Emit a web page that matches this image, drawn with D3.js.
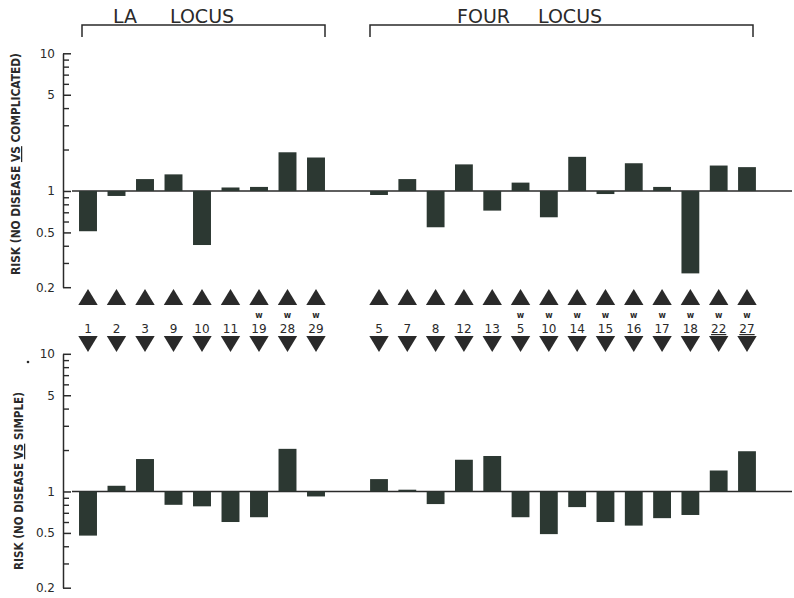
<!DOCTYPE html>
<html>
<head>
<meta charset="utf-8">
<script src="https://cdn.jsdelivr.net/npm/d3@7"></script>
<style>
  html, body { margin: 0; padding: 0; background: #fff; }
  svg { display: block; }
  text { font-family: "DejaVu Sans", "Liberation Sans", sans-serif; fill: #2a2a2a; }
</style>
</head>
<body>
<svg id="chart" width="794" height="598"></svg>
<script>
// ---- data ----
const laCats = ["1", "2", "3", "9", "10", "11", "w19", "w28", "w29"];
const fourCats = ["5", "7", "8", "12", "13", "w5", "w10", "w14", "w15", "w16", "w17", "w18", "w22", "w27"];
const underlinedCats = ["w22", "w27"];

const laComplicated = [0.51, 0.92, 1.22, 1.32, 0.405, 1.06, 1.07, 1.91, 1.75];
const fourComplicated = [0.935, 1.22, 0.545, 1.56, 0.72, 1.15, 0.644, 1.77, 0.95, 1.59, 1.07, 0.252, 1.53, 1.49];
const laSimple = [0.478, 1.10, 1.72, 0.80, 0.78, 0.60, 0.65, 2.04, 0.92];
const fourSimple = [1.23, 1.03, 0.81, 1.70, 1.81, 0.65, 0.49, 0.77, 0.60, 0.565, 0.64, 0.675, 1.42, 1.96];

const allTicks = [0.2, 0.3, 0.4, 0.5, 0.6, 0.7, 0.8, 0.9, 1, 2, 3, 4, 5, 6, 7, 8, 9, 10];
const majorTicks = [0.2, 0.5, 1, 5, 10];
const majorTickLabels = ["0.2", "0.5", "1", "5", "10"];
const groupTitleWords = [["LA", "LOCUS"], ["FOUR", "LOCUS"]];
const panelTitles = ["COMPLICATED", "SIMPLE"];

// ---- layout ----
const svg = d3.select("#chart");
const barColor = "#2c3832";
const ink = "#2a2a2a";

const xLA = d3.scaleBand().domain(laCats).range([73.75, 330.25]).paddingInner(0.37).paddingOuter(0.185);
const xFOUR = d3.scaleBand().domain(fourCats).range([364.85, 761.15]).paddingInner(0.37).paddingOuter(0.185);

const panels = [
  { top: 53.3, bottom: 287.2, la: laComplicated, four: fourComplicated, title: panelTitles[0], titleX: 20, titleY: 164, titleLen: 222 },
  { top: 353.8, bottom: 587.7, la: laSimple, four: fourSimple, title: panelTitles[1], titleX: 23, titleY: 481, titleLen: 178 }
];

panels.forEach(p => {
  const y = d3.scaleLog().domain([0.2, 10]).range([p.bottom, p.top]);
  const g = svg.append("g");

  // minor ticks
  g.append("g")
    .attr("transform", "translate(63,0)")
    .call(d3.axisLeft(y).tickValues(allTicks.filter(t => !majorTicks.includes(t))).tickSizeInner(-6).tickSizeOuter(0).tickFormat(""))
    .call(s => s.select(".domain").remove())
    .call(s => s.selectAll("line").attr("stroke", ink).attr("stroke-width", 1.4));

  // major ticks + axis line
  g.append("g")
    .attr("transform", "translate(63,0)")
    .call(d3.axisLeft(y).tickValues(majorTicks).tickSizeInner(-8).tickSizeOuter(0).tickPadding(8)
      .tickFormat((d, i) => majorTickLabels[i]))
    .call(s => s.select(".domain").attr("stroke", ink).attr("stroke-width", 1.5))
    .call(s => s.selectAll("line").attr("stroke", ink).attr("stroke-width", 1.5))
    .call(s => s.selectAll("text").attr("font-size", 12).attr("fill", ink)
      .attr("font-family", "DejaVu Sans, sans-serif"));

  // baseline at 1
  g.append("line")
    .attr("x1", 72).attr("x2", 792)
    .attr("y1", y(1)).attr("y2", y(1))
    .attr("stroke", ink).attr("stroke-width", 1.4);

  // bars
  const drawBars = (cats, vals, x) => {
    g.selectAll(null).data(cats.map((c, i) => ({ c, v: vals[i] })))
      .enter().append("rect")
      .attr("x", d => x(d.c))
      .attr("width", x.bandwidth())
      .attr("y", d => Math.min(y(d.v), y(1)))
      .attr("height", d => Math.abs(y(d.v) - y(1)))
      .attr("fill", barColor);
  };
  drawBars(laCats, p.la, xLA);
  drawBars(fourCats, p.four, xFOUR);

  // axis title
  const t = g.append("text")
    .attr("transform", `translate(${p.titleX},${p.titleY}) rotate(-90)`)
    .attr("text-anchor", "middle")
    .attr("font-size", 12.5)
    .attr("font-weight", "bold")
    .attr("fill", ink)
    .attr("textLength", p.titleLen)
    .attr("lengthAdjust", "spacingAndGlyphs");
  t.append("tspan").text("RISK (NO DISEASE ");
  t.append("tspan").attr("text-decoration", "underline").text("VS");
  t.append("tspan").text(" " + p.title + ")");
});

// tiny dot near lower panel title
svg.append("circle").attr("cx", 28).attr("cy", 362).attr("r", 1.3).attr("fill", ink);

// ---- triangles & category labels ----
const catGroups = [{ cats: laCats, x: xLA }, { cats: fourCats, x: xFOUR }];
catGroups.forEach(({ cats, x }) => {
  cats.forEach(c => {
    const cx = x(c) + x.bandwidth() / 2;
    const hw = 9.7;
    svg.append("path")
      .attr("d", `M${cx},289 L${cx + hw},305 L${cx - hw},305 Z`)
      .attr("fill", ink);
    svg.append("path")
      .attr("d", `M${cx - hw},336 L${cx + hw},336 L${cx},352 Z`)
      .attr("fill", ink);
    const isW = c.startsWith("w");
    const num = isW ? c.slice(1) : c;
    if (isW) {
      svg.append("text")
        .attr("x", cx).attr("y", 318)
        .attr("text-anchor", "middle")
        .attr("font-size", 8)
        .attr("font-weight", "bold")
        .attr("fill", ink)
        .text("w");
    }
    svg.append("text")
      .attr("x", cx).attr("y", 333)
      .attr("text-anchor", "middle")
      .attr("font-size", 12)
      .attr("fill", ink)
      .attr("text-decoration", underlinedCats.includes(c) ? "underline" : null)
      .text(num);
  });
});

// ---- group brackets ----
const brackets = [
  { x1: 82, x2: 325, words: groupTitleWords[0], wx: [113, 170] },
  { x1: 370, x2: 753, words: groupTitleWords[1], wx: [457, 538] }
];
brackets.forEach(b => {
  svg.append("path")
    .attr("d", `M${b.x1},37 L${b.x1},25 L${b.x2},25 L${b.x2},37`)
    .attr("fill", "none").attr("stroke", ink).attr("stroke-width", 1.5);
  b.words.forEach((w, i) => {
    svg.append("text")
      .attr("x", b.wx[i]).attr("y", 23)
      .attr("text-anchor", "start")
      .attr("font-size", 19)
      .attr("fill", ink)
      .text(w);
  });
});
</script>
</body>
</html>
